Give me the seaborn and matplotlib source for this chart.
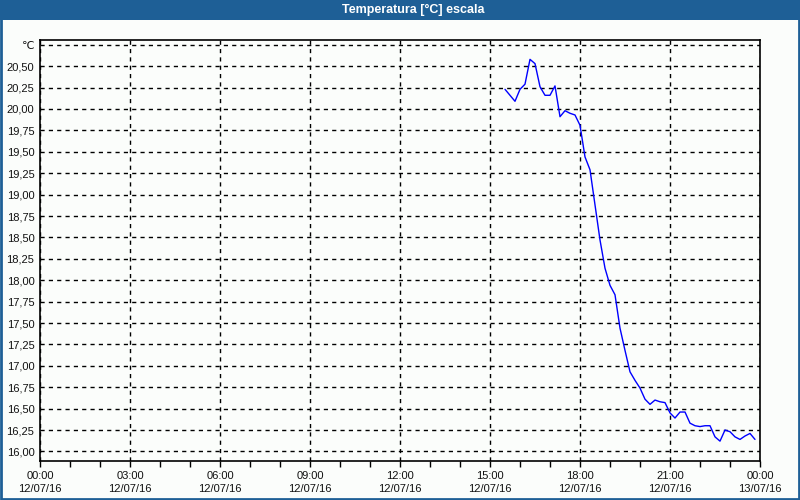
import matplotlib
matplotlib.use("Agg")
import matplotlib.pyplot as plt
import matplotlib.ticker as mticker
from matplotlib.patches import Rectangle
import seaborn as sns
import pandas as pd

# ---- data ----
times = ["15:30", "15:40", "15:50", "16:00", "16:10", "16:20", "16:30", "16:40", "16:50",
         "17:00", "17:10", "17:20", "17:30", "17:40", "17:50", "18:00", "18:10", "18:20",
         "18:30", "18:40", "18:50", "19:00", "19:10", "19:20", "19:30", "19:40", "19:50",
         "20:00", "20:10", "20:20", "20:30", "20:40", "20:50", "21:00", "21:10", "21:20",
         "21:30", "21:40", "21:50", "22:00", "22:10", "22:20", "22:30", "22:40", "22:50",
         "23:00", "23:10", "23:20", "23:30", "23:40", "23:50"]
temps = [20.23, 20.16, 20.09, 20.23, 20.29, 20.58, 20.53, 20.26, 20.16,
         20.16, 20.27, 19.91, 19.98, 19.95, 19.93, 19.81, 19.44, 19.29,
         18.88, 18.47, 18.14, 17.94, 17.83, 17.44, 17.18, 16.93, 16.83,
         16.74, 16.61, 16.55, 16.60, 16.58, 16.57, 16.45, 16.39, 16.46,
         16.46, 16.33, 16.30, 16.29, 16.30, 16.30, 16.17, 16.12, 16.25,
         16.23, 16.17, 16.14, 16.18, 16.21, 16.14]
x_tick_hours = [0, 3, 6, 9, 12, 15, 18, 21, 24]
x_tick_labels = ["00:00\n12/07/16", "03:00\n12/07/16", "06:00\n12/07/16", "09:00\n12/07/16",
                 "12:00\n12/07/16", "15:00\n12/07/16", "18:00\n12/07/16", "21:00\n12/07/16",
                 "00:00\n13/07/16"]
y_ticks = [16.00, 16.25, 16.50, 16.75, 17.00, 17.25, 17.50, 17.75, 18.00, 18.25,
           18.50, 18.75, 19.00, 19.25, 19.50, 19.75, 20.00, 20.25, 20.50, 20.75]
y_tick_labels = ["16,00", "16,25", "16,50", "16,75", "17,00", "17,25", "17,50", "17,75",
                 "18,00", "18,25", "18,50", "18,75", "19,00", "19,25", "19,50", "19,75",
                 "20,00", "20,25", "20,50", "℃"]
title = "Temperatura [°C] escala"

hours = [int(t.split(":")[0]) + int(t.split(":")[1]) / 60 for t in times]
df = pd.DataFrame({"hour": hours, "temp": temps})

sns.set_style("white")
plt.rcParams["font.family"] = ["Liberation Sans", "DejaVu Sans"]

BG = "#fbfdfb"
BAR = "#1e5f96"

fig = plt.figure(figsize=(8, 5), dpi=100, facecolor=BG)
ax = fig.add_axes([40 / 800, 1 - 461 / 500, 720 / 800, 421 / 500])
ax.set_facecolor(BG)

sns.lineplot(data=df, x="hour", y="temp", ax=ax, color="#0000ff", linewidth=1.0)

ax.set_xlim(0, 24)
ax.set_ylim(15.888, 20.806)
ax.set_xticks(x_tick_hours)
ax.set_xticklabels(x_tick_labels, linespacing=1.4)
ax.xaxis.set_minor_locator(mticker.MultipleLocator(1))
ax.set_yticks(y_ticks)
ax.set_yticklabels(y_tick_labels)
ax.set_xlabel("")
ax.set_ylabel("")

ax.grid(True, which="major", color="black", linestyle=(0, (3, 3)), linewidth=1.0)
ax.tick_params(axis="x", which="both", direction="out", length=4, width=1, color="black",
               labelsize=8, pad=3, bottom=True)
ax.tick_params(axis="y", which="both", length=0, labelsize=8, pad=4)
for lbl in ax.get_xticklabels() + ax.get_yticklabels():
    lbl.set_color("#111111")
for s in ax.spines.values():
    s.set_color("black")
    s.set_linewidth(1.2)

# title bar and window frame
fig.patches.append(Rectangle((0, 1 - 20 / 500), 1, 20 / 500, transform=fig.transFigure,
                             facecolor=BAR, edgecolor="none", zorder=0))
fig.patches.append(Rectangle((0.001, 0.002), 0.998, 0.996, transform=fig.transFigure,
                             facecolor="none", edgecolor=BAR, linewidth=2, zorder=1))
fig.text(413 / 800, 1 - 10 / 500, title, color="white", fontsize=9, fontweight="bold",
         ha="center", va="center")

fig.savefig("out.png", dpi=100, facecolor=BG)
